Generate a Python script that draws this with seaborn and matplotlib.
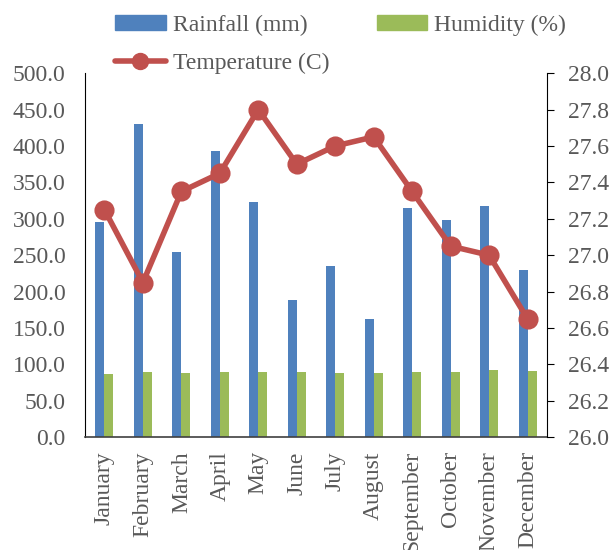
import numpy as np
import pandas as pd
import matplotlib.pyplot as plt
import matplotlib.ticker as mticker
from matplotlib.lines import Line2D
from matplotlib.patches import Patch
import seaborn as sns

months = ["January", "February", "March", "April", "May", "June", "July",
          "August", "September", "October", "November", "December"]
rainfall = [295, 430, 255, 393, 323, 189, 235, 162, 315, 298, 317, 230]
humidity = [87, 89, 88, 89, 89, 89, 88, 88, 89, 90, 92, 91]
temperature = [27.25, 26.85, 27.35, 27.45, 27.8, 27.5, 27.6, 27.65, 27.35, 27.05, 27.0, 26.65]

blue = "#4F81BD"
green = "#9BBB59"
red = "#C0504D"
grey = "#595959"
fs = 17

sns.set_style("white")
plt.rcParams["font.family"] = ["Liberation Serif", "DejaVu Serif"]

df = pd.DataFrame({"month": months * 2,
                   "value": rainfall + humidity,
                   "series": ["Rainfall (mm)"] * 12 + ["Humidity (%)"] * 12})
tdf = pd.DataFrame({"month": months, "temp": temperature})

fig = plt.figure(figsize=(6.13, 5.5), dpi=100)
ax = fig.add_axes([0.139, 0.205, 0.753, 0.662])

sns.barplot(data=df, x="month", y="value", hue="series", palette=[blue, green],
            width=0.47, gap=0, saturation=1, linewidth=0, ax=ax, legend=False)
ax.set_ylim(0, 500)
ax.yaxis.set_major_locator(mticker.MultipleLocator(50))
ax.yaxis.set_major_formatter(mticker.FormatStrFormatter("%.1f"))
ax.set_xlabel("")
ax.set_ylabel("")

ax2 = ax.twinx()
sns.pointplot(data=tdf, x="month", y="temp", color=red, ax=ax2,
              markers="o", markersize=11.5, linewidth=4)
ax2.set_ylim(26.0, 28.0)
ax2.yaxis.set_major_locator(mticker.MultipleLocator(0.2))
ax2.yaxis.set_major_formatter(mticker.FormatStrFormatter("%.1f"))
ax2.set_ylabel("")
ax.set_xlim(-0.5, 11.5)

ax.spines["top"].set_visible(False)
ax.spines["right"].set_visible(False)
ax.spines["left"].set_color("black")
ax.spines["bottom"].set_color("#404040")
ax.spines["bottom"].set_linewidth(1.2)
ax2.spines["top"].set_visible(False)
ax2.spines["left"].set_visible(False)
ax2.spines["bottom"].set_visible(False)
ax2.spines["right"].set_color("black")

ax.tick_params(axis="y", length=0, labelsize=fs, labelcolor=grey, pad=14)
ax.tick_params(axis="x", length=0, labelsize=fs, labelcolor=grey, rotation=90, pad=10)
ax2.tick_params(axis="y", length=5, direction="out", labelsize=fs,
                labelcolor=grey, color="black", pad=10)

handles = [Patch(color=blue, label="Rainfall (mm)"),
           Line2D([], [], color=red, lw=4, marker="o", markersize=11.5,
                  label="Temperature (C)"),
           Patch(color=green, label="Humidity (%)")]
fig.legend(handles=handles, ncol=2, loc="upper left", bbox_to_anchor=(0.153, 1.012),
           frameon=False, fontsize=fs, labelcolor=grey, handlelength=2.15,
           handleheight=0.6, handletextpad=0.3, columnspacing=2.0, labelspacing=0.72)

fig.savefig("out.png", dpi=100)
